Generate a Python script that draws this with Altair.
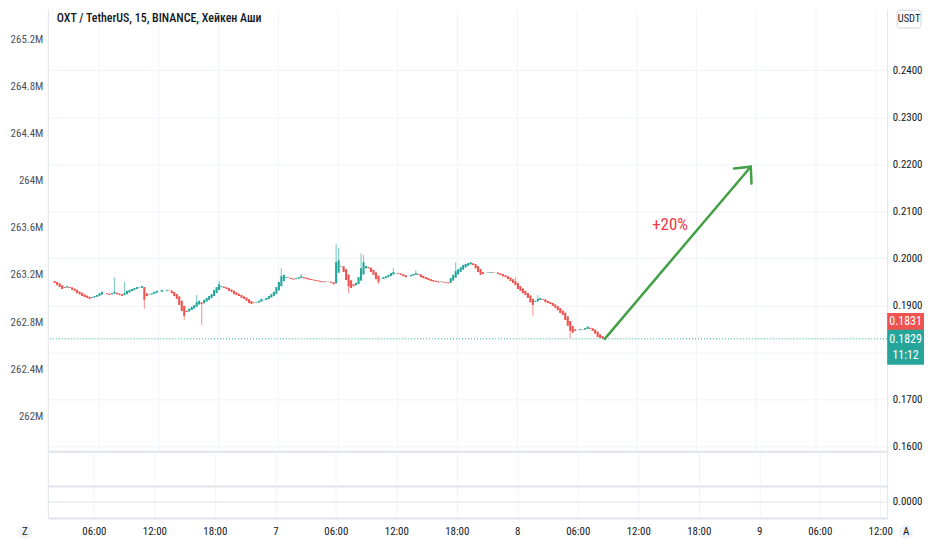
import json
import altair as alt
import pandas as pd

# ---------------- values ----------------
title_text = "OXT / TetherUS, 15, BINANCE, Хейкен Аши"
first_candle_hour = 1.5          # hours after day-6 00:00
candle_step = 0.25               # 15-minute candles
first_open = 0.1952

closes = [
    0.1948, 0.1943,
    0.1939, 0.1935, 0.1937, 0.1941,
    0.1937, 0.1933, 0.1931, 0.1926,
    0.1924, 0.1920, 0.1918, 0.1916,
    0.1914, 0.1918, 0.1920, 0.1922,
    0.1926, 0.1929, 0.1926, 0.1924,
    0.1922, 0.1926, 0.1929, 0.1924,
    0.1922, 0.1920, 0.1926, 0.1931,
    0.1933, 0.1935, 0.1937, 0.1939,
    0.1938, 0.1941, 0.1912, 0.1920,
    0.1924, 0.1926, 0.1929, 0.1931,
    0.1929, 0.1933, 0.1931, 0.1933,
    0.1931, 0.1926, 0.1920, 0.1914,
    0.1901, 0.1888, 0.1878, 0.1886,
    0.1893, 0.1897, 0.1901, 0.1907,
    0.1910, 0.1903, 0.1912, 0.1916,
    0.1920, 0.1924, 0.1933, 0.1939,
    0.1945, 0.1941, 0.1937, 0.1935,
    0.1931, 0.1929, 0.1924, 0.1922,
    0.1920, 0.1916, 0.1914, 0.1910,
    0.1905, 0.1903, 0.1905, 0.1907,
    0.1910, 0.1914, 0.1912, 0.1916,
    0.1920, 0.1924, 0.1929, 0.1939,
    0.1950, 0.1962, 0.1965, 0.1960,
    0.1958, 0.1956, 0.1955, 0.1958,
    0.1960, 0.1962, 0.1958, 0.1956,
    0.1955, 0.1954, 0.1953, 0.1952,
    0.1951, 0.1950, 0.1949, 0.1951,
    0.1950, 0.1948, 0.1945, 0.1992,
    0.1996, 0.1984, 0.1971, 0.1954,
    0.1941, 0.1937, 0.1941, 0.1948,
    0.1960, 0.1979, 0.1992, 0.1984,
    0.1979, 0.1971, 0.1965, 0.1956,
    0.1950, 0.1956, 0.1960, 0.1962,
    0.1965, 0.1969, 0.1971, 0.1969,
    0.1967, 0.1965, 0.1962, 0.1960,
    0.1962, 0.1965, 0.1967, 0.1969,
    0.1965, 0.1960, 0.1958, 0.1956,
    0.1954, 0.1952, 0.1951, 0.1950,
    0.1949, 0.1951, 0.1949, 0.1948,
    0.1947, 0.1958, 0.1965, 0.1973,
    0.1977, 0.1981, 0.1986, 0.1988,
    0.1990, 0.1992, 0.1986, 0.1979,
    0.1971, 0.1965, 0.1967, 0.1969,
    0.1970, 0.1971, 0.1969, 0.1970,
    0.1967, 0.1965, 0.1962, 0.1960,
    0.1956, 0.1952, 0.1948, 0.1943,
    0.1935, 0.1931, 0.1926, 0.1922,
    0.1916, 0.1907, 0.1901, 0.1910,
    0.1914, 0.1916, 0.1912, 0.1907,
    0.1905, 0.1903, 0.1899, 0.1895,
    0.1890, 0.1884, 0.1880, 0.1869,
    0.1857, 0.1846, 0.1842, 0.1846,
    0.1848, 0.1850, 0.1848, 0.1852,
    0.1855, 0.1850, 0.1846, 0.1840,
    0.1833, 0.1831, 0.1829,
]
# long wicks (candle index -> price)
wick_high = {24: 0.1960, 28: 0.1950, 57: 0.1922, 66: 0.1952, 91: 0.1979,
             99: 0.1967, 113: 0.2030, 114: 0.2022, 123: 0.2011, 124: 0.2007,
             136: 0.1979, 145: 0.1975, 161: 0.1992, 185: 0.1960, 194: 0.1922}
wick_low = {36: 0.1893, 52: 0.1869, 59: 0.1859, 118: 0.1926, 130: 0.1945,
            192: 0.1878, 207: 0.1831}

price_ticks = [0.16, 0.17, 0.18, 0.19, 0.20, 0.21, 0.22, 0.23, 0.24]
hidden_price_tick = 0.18
left_ticks = [262.0, 262.4, 262.8, 263.2, 263.6, 264.0, 264.4, 264.8, 265.2]
time_ticks = [6, 12, 18, 24, 30, 36, 42, 48, 54, 60, 66, 72, 78, 84]
time_labels = ["06:00", "12:00", "18:00", "7", "06:00", "12:00", "18:00",
               "8", "06:00", "12:00", "18:00", "9", "06:00", "12:00"]

last_price = 0.1829
other_price = 0.1831
countdown = "11:12"
arrow_hours = [56.84, 71.5]
arrow_prices = [0.1829, 0.2195]
pct_label = "+20%"
pct_hour = 63.4
pct_price = 0.2070
pane3_ticks = [0]

# ---------------- layout / style ----------------
W, H1, H2, H3 = 843, 444, 34, 32
X_DOMAIN = [1.432, 84.69]
P_DOMAIN = [0.1590, 0.2530]
L_DOMAIN = [261.7045, 265.4533]
FONT = "Roboto Condensed, Roboto, sans-serif"
GREEN, RED, TEAL = "#26a69a", "#ef5350", "#26a69a"
ARROW, PCT_RED = "#43a047", "#f23645"
GRID, BORDER, TXT = "#f0f3fa", "#e0e3eb", "#131722"
LEFT_EXT, RIGHT_EXT = 40, 37

# Heikin-Ashi candles: open is the midpoint of the previous candle's body
rows = []
o, prev_c = first_open, None
for i, c in enumerate(closes):
    if prev_c is not None:
        o = (o + prev_c) / 2
    hi, lo = max(o, c), min(o, c)
    hi = max(hi, wick_high.get(i, hi))
    lo = min(lo, wick_low.get(i, lo))
    rows.append(dict(t=first_candle_hour + i * candle_step + candle_step / 2,
                     open=o, close=c, high=hi, low=lo,
                     col=GREEN if c >= o else RED))
    prev_c = c
candles = pd.DataFrame(rows)

time_expr = f"{json.dumps(time_labels)}[indexof({json.dumps(time_ticks)}, datum.value)]"

grid_x_axis = alt.Axis(values=time_ticks, grid=True, gridColor=GRID, labels=False,
                       ticks=False, domain=True, domainColor=BORDER, domainWidth=2,
                       title=None)
label_x_axis = alt.Axis(values=time_ticks, grid=True, gridColor=GRID, labelExpr=time_expr,
                        ticks=False, tickSize=0, labelPadding=8, labelFont=FONT,
                        labelFontSize=11, labelColor=TXT, domain=True, domainColor=BORDER,
                        domainWidth=2, title=None, labelOverlap=False)

price_axis = alt.Axis(orient="right", values=price_ticks,
                      labelExpr=f"abs(datum.value - {hidden_price_tick}) < 0.00001 ? '' : format(datum.value, '.4f')",
                      labelFont=FONT, labelFontSize=11, labelColor=TXT, labelPadding=5,
                      ticks=False, grid=True, gridColor=GRID, domain=True, domainColor=BORDER,
                      minExtent=RIGHT_EXT, maxExtent=RIGHT_EXT, title=None)
left_axis = alt.Axis(orient="left", values=left_ticks,
                     labelExpr="format(datum.value, '.1~f') + 'M'",
                     labelFont=FONT, labelFontSize=11, labelColor="#4c4f59", labelPadding=5,
                     ticks=False, grid=False, domain=True, domainColor=BORDER,
                     minExtent=LEFT_EXT, maxExtent=LEFT_EXT, title=None)


def xenc(field="t", axis=grid_x_axis):
    return alt.X(f"{field}:Q", scale=alt.Scale(domain=X_DOMAIN, nice=False, zero=False),
                 axis=axis)


def yprice(field):
    return alt.Y(f"{field}:Q", scale=alt.Scale(domain=P_DOMAIN, nice=False, zero=False),
                 axis=price_axis)


one = pd.DataFrame({"a": [0]})

# ---------------- main pane ----------------
left_layer = alt.Chart(pd.DataFrame({"v": left_ticks})).mark_point(opacity=0).encode(
    y=alt.Y("v:Q", scale=alt.Scale(domain=L_DOMAIN, nice=False, zero=False), axis=left_axis)
)

wicks = alt.Chart(candles).mark_rule(strokeWidth=1.2, opacity=0.55).encode(
    x=xenc(), y=yprice("low"), y2="high", color=alt.Color("col:N", scale=None))
bodies = alt.Chart(candles).mark_bar(size=2.1).encode(
    x=xenc(), y=yprice("open"), y2="close", color=alt.Color("col:N", scale=None))

last_df = pd.DataFrame({"p": [last_price], "label": [f"{last_price:.4f}"], "cd": [countdown]})
other_df = pd.DataFrame({"p": [other_price], "label": [f"{other_price:.4f}"]})

dotted = alt.Chart(last_df).mark_rule(color=TEAL, strokeDash=[1, 2], strokeWidth=1).encode(
    y=yprice("p"))

arrow_df = pd.DataFrame({"t": arrow_hours, "p": arrow_prices})
arrow_line = alt.Chart(arrow_df).mark_line(color=ARROW, strokeWidth=2.5, strokeCap="round").encode(
    x=xenc(), y=yprice("p"))
arrow_head = alt.Chart(arrow_df.iloc[[1]]).mark_point(
    shape="M -0.7 0.75 L 0 0 L 0.7 0.75", filled=False, size=1100, strokeWidth=2.5,
    color=ARROW, opacity=1, angle=40.6, strokeCap="round").encode(x=xenc(), y=yprice("p"))

pct = alt.Chart(pd.DataFrame({"t": [pct_hour], "p": [pct_price], "s": [pct_label]})).mark_text(
    font=FONT, fontSize=17, color=PCT_RED).encode(x=xenc(), y=yprice("p"), text="s:N")

title = alt.Chart(one).mark_text(align="left", baseline="middle", font=FONT, fontSize=12,
                                 fontWeight=500, color=TXT).encode(
    x=alt.value(9), y=alt.value(9), text=alt.value(title_text))

usdt_box = alt.Chart(one).mark_rect(fill="white", stroke="#d1d4dc", strokeWidth=1,
                                    cornerRadius=3).encode(
    x=alt.value(W + 10), x2=alt.value(W + 34), y=alt.value(1), y2=alt.value(19))
usdt_txt = alt.Chart(one).mark_text(font=FONT, fontSize=10.5, color=TXT).encode(
    x=alt.value(W + 22), y=alt.value(10), text=alt.value("USDT"))

green_box = alt.Chart(last_df).mark_rect(color=TEAL, yOffset=-9, y2Offset=26).encode(
    x=alt.value(W), x2=alt.value(W + RIGHT_EXT), y=yprice("p"), y2="p")
green_txt = alt.Chart(last_df).mark_text(color="white", font=FONT, fontSize=12).encode(
    x=alt.value(W + 18.5), y=yprice("p"), text="label:N")
green_cd = alt.Chart(last_df).mark_text(color="white", font=FONT, fontSize=12, dy=16).encode(
    x=alt.value(W + 18.5), y=yprice("p"), text="cd:N")
red_box = alt.Chart(other_df).mark_rect(color=RED, yOffset=-25, y2Offset=-8).encode(
    x=alt.value(W), x2=alt.value(W + RIGHT_EXT), y=yprice("p"), y2="p")
red_txt = alt.Chart(other_df).mark_text(color="white", font=FONT, fontSize=12, dy=-16.5).encode(
    x=alt.value(W + 18.5), y=yprice("p"), text="label:N")

price_group = alt.layer(wicks, bodies, dotted, arrow_line, arrow_head, pct, title,
                        usdt_box, usdt_txt, red_box, red_txt, green_box, green_txt, green_cd)
main = alt.layer(left_layer, price_group).resolve_scale(y="independent").properties(
    width=W, height=H1)


# ---------------- lower panes ----------------
def dummy_left():
    return alt.Chart(pd.DataFrame({"v": [0]})).mark_point(opacity=0).encode(
        y=alt.Y("v:Q", scale=alt.Scale(domain=[-1, 1]),
                axis=alt.Axis(orient="left", values=[0], labelExpr="'265.2M'", labelOpacity=0,
                              labelFont=FONT, labelFontSize=11, labelPadding=5, ticks=False,
                              grid=False, domain=True, domainColor=BORDER,
                              minExtent=LEFT_EXT, maxExtent=LEFT_EXT, title=None)))


p2_right = alt.Chart(pd.DataFrame({"t": time_ticks, "v": 0})).mark_point(opacity=0).encode(
    x=xenc(),
    y=alt.Y("v:Q", scale=alt.Scale(domain=[-1, 1]),
            axis=alt.Axis(orient="right", labels=False, ticks=False, grid=False, domain=True,
                          domainColor=BORDER, minExtent=RIGHT_EXT, maxExtent=RIGHT_EXT,
                          title=None)))
pane2 = alt.layer(dummy_left(), p2_right).resolve_scale(y="independent").properties(
    width=W, height=H2)

p3_axis = alt.Axis(orient="right", values=pane3_ticks, format=".4f", labelFont=FONT,
                   labelFontSize=11, labelColor=TXT, labelPadding=5, ticks=False, grid=False,
                   domain=True, domainColor=BORDER, minExtent=RIGHT_EXT, maxExtent=RIGHT_EXT,
                   title=None)
p3_scale = alt.Scale(domain=[-1, 1])
p3_base = alt.Chart(pd.DataFrame({"t": time_ticks, "v": 0})).mark_point(opacity=0).encode(
    x=xenc(axis=label_x_axis), y=alt.Y("v:Q", scale=p3_scale, axis=p3_axis))
p3_zero = alt.Chart(pd.DataFrame({"v": pane3_ticks})).mark_rule(
    color="#dfe2e8", strokeWidth=1).encode(y=alt.Y("v:Q", scale=p3_scale, axis=p3_axis))
corner_df = pd.DataFrame({"xp": [-23, W + 19], "s": ["Z", "A"]})
corner_circles = alt.Chart(corner_df).mark_circle(size=200, color="#f0f3fa", opacity=1).encode(
    x=alt.X("xp:Q", scale=None), y=alt.value(46))
corner_text = alt.Chart(corner_df).mark_text(font=FONT, fontSize=11, color=TXT).encode(
    x=alt.X("xp:Q", scale=None), y=alt.value(46), text="s:N")
pane3 = alt.layer(dummy_left(), alt.layer(p3_base, p3_zero)).resolve_scale(y="independent")
pane3 = alt.layer(pane3, corner_circles, corner_text).properties(width=W, height=H3)

chart = alt.vconcat(main, pane2, pane3, spacing=0).properties(
    padding=0, background="white").configure_view(stroke=None)

chart.save("out.html", embed_options={"renderer": "svg", "actions": False})
